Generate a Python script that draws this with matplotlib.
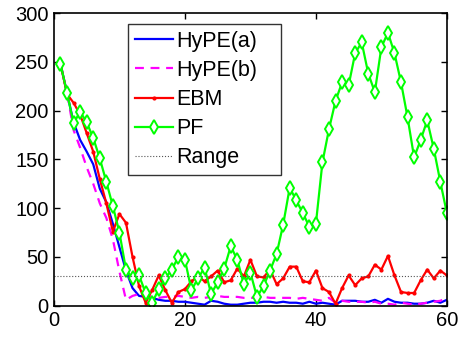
import numpy as np
import matplotlib
matplotlib.use("Agg")
import matplotlib.pyplot as plt

plt.rcParams['font.family'] = ['Liberation Sans', 'DejaVu Sans']

steps = np.arange(1, 61)

hype_a = [248, 218, 188, 170, 158, 145, 120, 106, 84, 60,
          36, 18, 10, 9, 8, 6, 5, 5, 4, 4,
          3, 2, 1, 5, 4, 2, 1, 1, 2, 3,
          3, 4, 4, 3, 4, 3, 3, 2, 4, 2,
          3, 2, 1, 5, 5, 5, 4, 4, 6, 3,
          7, 4, 3, 3, 2, 2, 3, 5, 3, 6]

hype_b = [248, 218, 180, 162, 142, 125, 105, 90, 68, 35,
          6, 10, 12, 10, 9, 8, 9, 9, 10, 9,
          8, 9, 8, 9, 10, 9, 9, 9, 8, 8,
          8, 9, 8, 8, 8, 8, 7, 8, 7, 6,
          5, 8, 3, 5, 4, 4, 4, 3, 4, 2,
          2, 1, 3, 2, 1, 2, 3, 4, 5, 8]

ebm = [248, 217, 208, 196, 177, 158, 130, 105, 76, 94,
       85, 50, 20, 3, 16, 31, 16, 3, 14, 17,
       25, 30, 25, 30, 36, 24, 26, 38, 30, 47,
       30, 29, 37, 22, 28, 40, 40, 25, 24, 36,
       18, 14, 2, 18, 31, 21, 28, 30, 42, 37,
       51, 31, 14, 13, 13, 26, 37, 28, 36, 31]

pf = [248, 218, 187, 199, 188, 172, 151, 127, 102, 75,
      37, 28, 31, 13, 3, 17, 28, 37, 50, 47,
      16, 28, 39, 12, 24, 38, 61, 47, 22, 34,
      9, 20, 36, 53, 83, 121, 108, 95, 81, 84,
      147, 181, 210, 229, 226, 259, 270, 238, 219, 265,
      280, 259, 229, 193, 152, 170, 190, 161, 127, 95]

range_val = 30

fig = plt.figure(figsize=(4.65, 3.37), dpi=100)
ax = fig.add_axes([0.116, 0.093, 0.845, 0.868])

ax.plot(steps, hype_a, '-', color='#0000ff', lw=1.6, label='HyPE(a)')
ax.plot(steps, hype_b, '--', color='#ff00ff', lw=1.6, dashes=(4, 3), label='HyPE(b)')
ax.plot(steps, ebm, '.-', color='#ff0000', lw=1.6, ms=4, label='EBM')
ax.plot(steps, pf, '-d', color='#00ff00', lw=1.6, ms=7, mew=1.4, mfc='white', label='PF')
ax.plot([0, 60], [range_val, range_val], ':', color='#555555', lw=0.8, label='Range')

ax.set_xlim(0, 60)
ax.set_ylim(0, 300)
ax.set_xticks([0, 20, 40, 60])
ax.set_yticks([0, 50, 100, 150, 200, 250, 300])
ax.tick_params(direction='in', top=True, right=True, length=4, width=1, labelsize=14.5, pad=4)
for s in ax.spines.values():
    s.set_linewidth(1.2)

# legend box spans roughly x 0.19..0.58 of the axes, like the original
leg = ax.legend(loc='upper left', bbox_to_anchor=(0.189, 0.464, 0.39, 0.498), mode='expand',
                borderaxespad=0, fontsize=15.5, frameon=True, fancybox=False, edgecolor='black',
                handlelength=1.8, handletextpad=0.15, labelspacing=0.38, borderpad=0.3)
leg.get_frame().set_linewidth(1.0)

fig.savefig('out.png', dpi=100)
